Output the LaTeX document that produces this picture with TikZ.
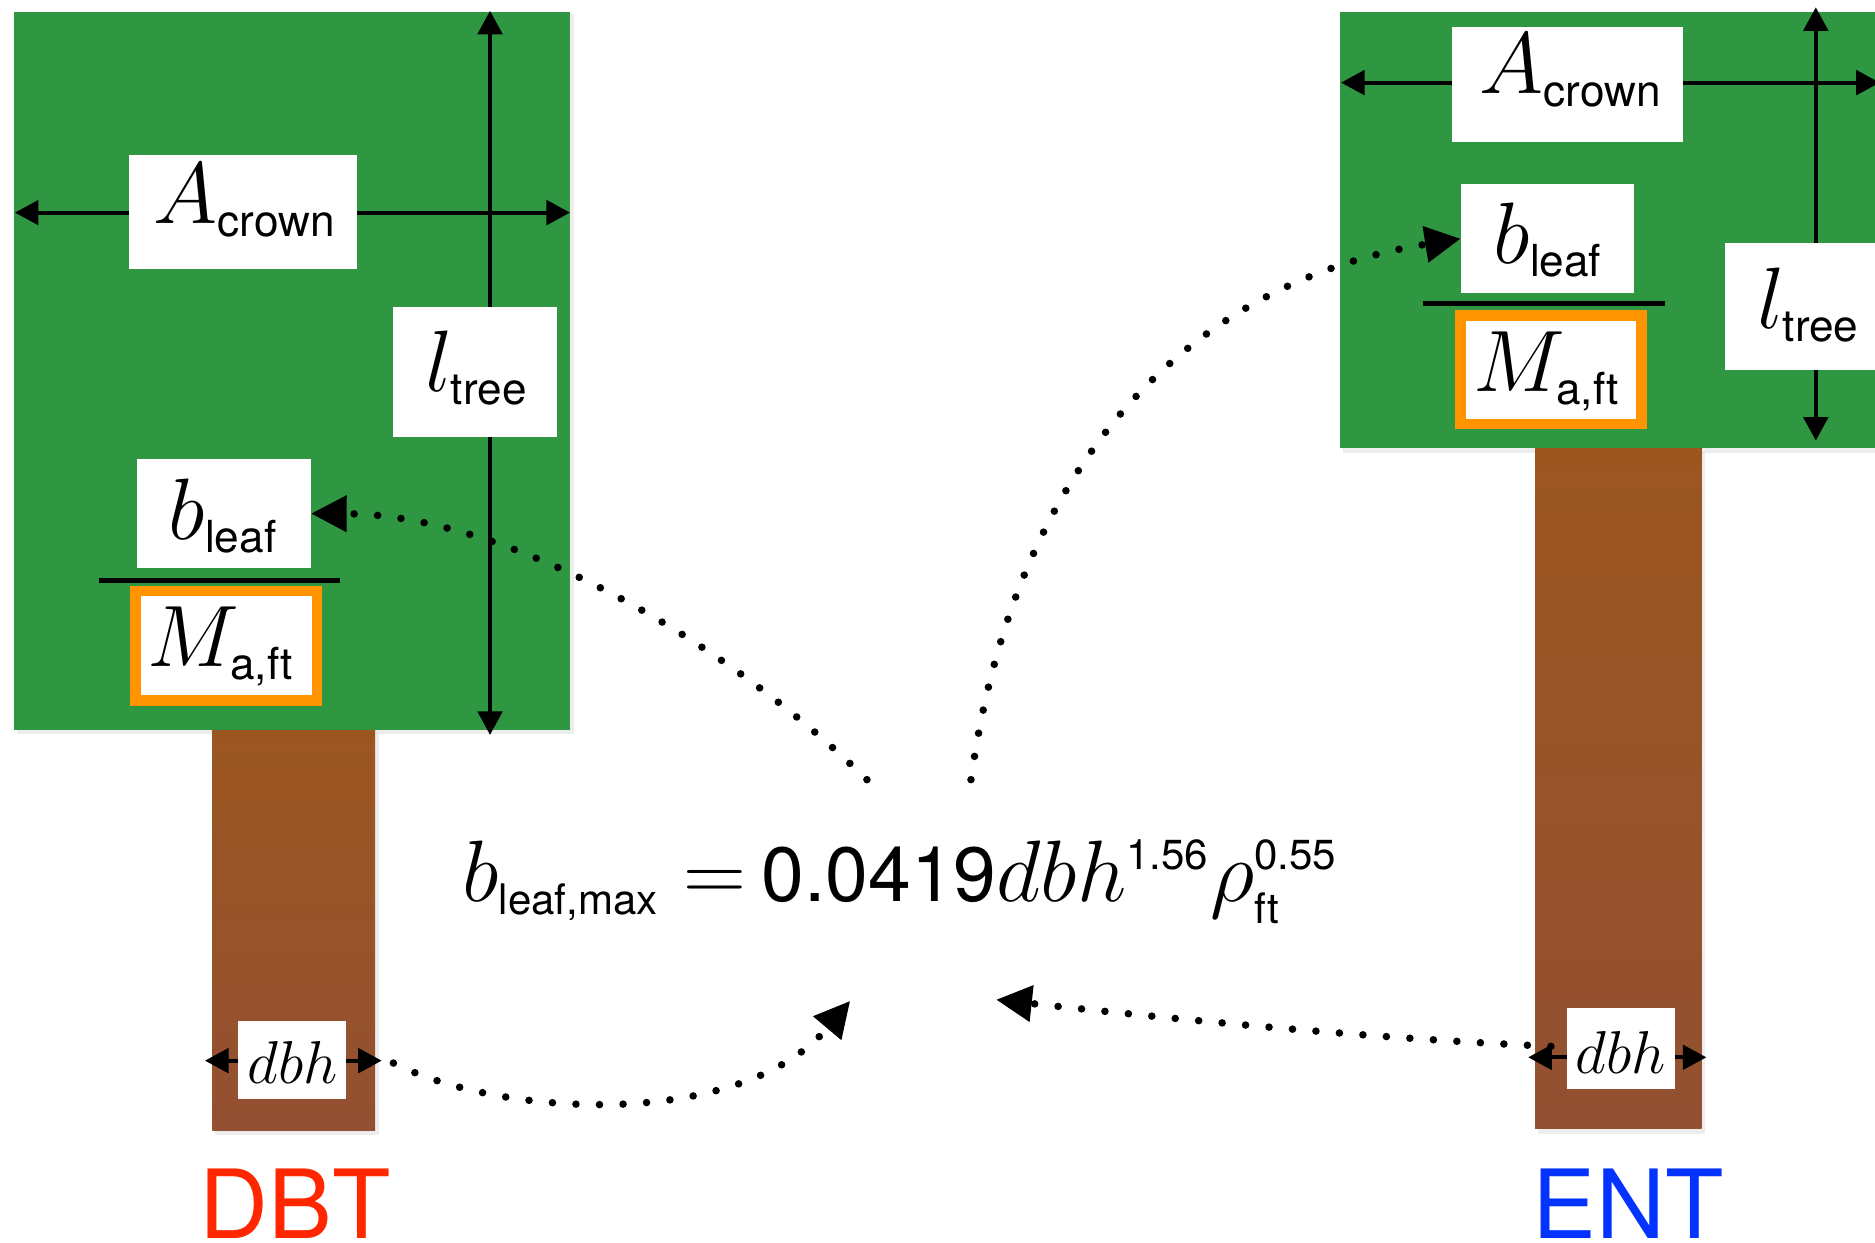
\documentclass[tikz,border=0pt]{standalone}
\usepackage{fontspec}
\usetikzlibrary{arrows.meta}
\newfontfamily\hv{TeX Gyre Heros}
\newcommand{\lsub}[1]{\mbox{\fontsize{10.5}{12}\selectfont\hv #1}}
\newcommand{\esub}[1]{\mbox{\fontsize{10}{12}\selectfont\hv #1}}
\definecolor{crowngreen}{RGB}{47,150,65}
\definecolor{trunkT}{RGB}{155,86,32}
\definecolor{trunkB}{RGB}{147,80,50}
\definecolor{fborder}{RGB}{255,147,0}
\definecolor{dbtred}{RGB}{255,38,0}
\definecolor{entblue}{RGB}{4,51,255}
\begin{document}
\begin{tikzpicture}[x=0.01cm,y=-0.01cm,
  dimarrow/.style={line width=0.95pt,{Triangle[length=5.6pt,width=5.8pt]}-{Triangle[length=5.6pt,width=5.8pt]}},
  dotarrow/.style={line width=1.8pt,line cap=round,dash pattern=on 0pt off 5.6pt,-{Triangle[length=8.5pt,width=8.3pt]}},
  wbox/.style={fill=white,inner sep=0pt,outer sep=0pt},
  obox/.style={fill=white,draw=fborder,line width=2.56pt,inner sep=0pt,outer sep=0pt},
  lbl/.style={inner sep=0pt,anchor=base,font=\fontsize{20.74}{24}\selectfont},
  dlbl/.style={inner sep=0pt,anchor=base,font=\fontsize{14.4}{18}\selectfont},
  fracline/.style={line width=1.2pt},
  shadow/.style={fill=black,opacity=0.07},
  tag/.style={inner sep=0pt,anchor=base,font=\fontsize{22.7}{26}\selectfont\hv}]
\useasboundingbox (0,0) rectangle (1568,1039);
\clip (0,0) rectangle (1568,1039);

% ---------- left tree (DBT) ----------
\fill[shadow] (180,613) rectangle (317,949);
\fill[shadow] (14,12) rectangle (480,614);
\fill[top color=trunkT,bottom color=trunkB] (177.5,610) rectangle (313.6,945);
\fill[crowngreen] (12,10) rectangle (476.7,610.5);

\coordinate (LAl) at (12.5,177.8);
\coordinate (LAr) at (476.7,177.8);
\draw[dimarrow] (LAl) -- (LAr);
\coordinate (LLt) at (409.8,9);
\coordinate (LLb) at (409.8,614.6);
\draw[dimarrow] (LLt) -- (LLb);

\node[wbox,minimum width=1.905cm,minimum height=0.954cm] (LA) at (203.3,177.3) {};
\node[lbl] (LAtxt) at (205,186.6) {$A_{\lsub{crown}}$};
\node[wbox,minimum width=1.372cm,minimum height=1.09cm] (LL) at (397.2,311) {};
\node[lbl] (LLtxt) at (399,327.5) {$l_{\lsub{tree}}$};
\node[wbox,minimum width=1.452cm,minimum height=0.914cm] (LB) at (187.4,429.5) {};
\node[lbl] (LBtxt) at (187,451) {$b_{\lsub{leaf}}$};
\coordinate (LFl) at (82.8,485.6);
\coordinate (LFr) at (284.3,485.6);
\draw[fracline] (LFl) -- (LFr);
\node[obox,minimum width=1.518cm,minimum height=0.912cm] (LM) at (189.1,539.9) {};
\node[lbl] (LMtxt) at (185,557.5) {$M_{\lsub{a,ft}}$};

\coordinate (LDl) at (171.4,887);
\coordinate (LDr) at (319.2,887);
\draw[dimarrow] (LDl) -- (LDr);
\node[wbox,minimum width=0.897cm,minimum height=0.65cm] (LD) at (244.2,886.3) {};
\node[dlbl] (LDtxt) at (244.6,905.8) {$dbh$};
\node[tag,text=dbtred] (DBT) at (246.9,1035.5) {DBT};

% ---------- right tree (ENT) ----------
\fill[shadow] (1286,378) rectangle (1426,948);
\fill[shadow] (1123,12) rectangle (1580,379);
\fill[top color=trunkT,bottom color=trunkB] (1283.7,375) rectangle (1423,943.6);
\fill[crowngreen] (1121,9.8) rectangle (1580,375);

\coordinate (RAl) at (1121.5,69.1);
\coordinate (RAr) at (1572,69.1);
\draw[dimarrow] (RAl) -- (RAr);
\coordinate (RLt) at (1518.5,6.1);
\coordinate (RLb) at (1518.5,368.5);
\draw[dimarrow] (RLt) -- (RLb);

\node[wbox,minimum width=1.926cm,minimum height=0.957cm] (RA) at (1310.9,70.65) {};
\node[lbl] (RAtxt) at (1314,78) {$A_{\lsub{crown}}$};
\node[wbox,minimum width=1.372cm,minimum height=1.06cm] (RL) at (1511.2,256.5) {};
\node[lbl] (RLtxt) at (1512.8,274.5) {$l_{\lsub{tree}}$};
\node[wbox,minimum width=1.452cm,minimum height=0.914cm] (RB) at (1294.2,199.6) {};
\node[lbl] (RBtxt) at (1295,220.2) {$b_{\lsub{leaf}}$};
\coordinate (RFl) at (1190.3,254.2);
\coordinate (RFr) at (1392.5,254.2);
\draw[fracline] (RFl) -- (RFr);
\node[obox,minimum width=1.515cm,minimum height=0.907cm] (RM) at (1296.9,309.2) {};
\node[lbl] (RMtxt) at (1294,327.5) {$M_{\lsub{a,ft}}$};

\coordinate (RDl) at (1278,884.2);
\coordinate (RDr) at (1427,884.2);
\draw[dimarrow] (RDl) -- (RDr);
\node[wbox,minimum width=0.903cm,minimum height=0.675cm] (RD) at (1355.4,876.8) {};
\node[dlbl] (RDtxt) at (1355.4,897.6) {$dbh$};
\node[tag,text=entblue] (ENT) at (1361.8,1035.5) {ENT};

% ---------- equation ----------
\node[inner sep=0pt,anchor=base west,font=\fontsize{20.74}{24}\selectfont] (EQ) at (386,754)
  {$b_{\esub{leaf,max}} = \mkern-2mu\mbox{\fontsize{18.3}{24}\selectfont\hv 0.0419}dbh^{\esub{1.56}}\rho^{\esub{0.55}}_{\esub{ft}}$};

% ---------- dotted connectors ----------
\coordinate (E1) at (725,652);
\coordinate (E2) at (812,652);
\coordinate (E3) at (711,837);
\coordinate (E4) at (833,836);
\coordinate (LDs) at (329,889);
\coordinate (RDs) at (1297,875);
\draw[dotarrow] (E1) .. controls (600,530) and (420,430) .. (LB.east);
\draw[dotarrow] (E2) .. controls (850,380) and (1000,235) .. (RB.west);
\draw[dotarrow] (LDs) .. controls (420,935) and (620,945) .. (E3);
\draw[dotarrow] (RDs) .. controls (1140,868) and (980,852) .. (E4);
\end{tikzpicture}
\end{document}
